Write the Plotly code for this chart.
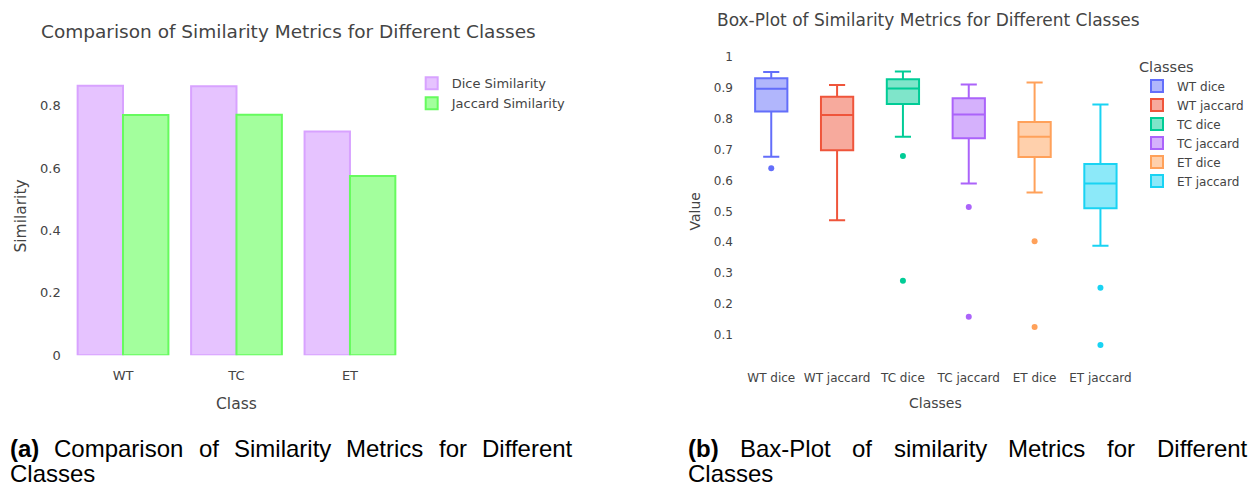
import plotly.graph_objects as go

W, H = 1249, 489

# ---------------- data: left bar chart ----------------
classes = ["WT", "TC", "ET"]
dice_similarity = [0.864, 0.862, 0.717]
jaccard_similarity = [0.770, 0.771, 0.574]

# ---------------- data: right box plot ----------------
box_names = ["WT dice", "WT jaccard", "TC dice", "TC jaccard", "ET dice", "ET jaccard"]
box_lowerfence = [0.677, 0.471, 0.742, 0.590, 0.561, 0.389]
box_q1 = [0.823, 0.698, 0.848, 0.737, 0.676, 0.510]
box_median = [0.897, 0.812, 0.898, 0.814, 0.742, 0.590]
box_q3 = [0.931, 0.871, 0.928, 0.866, 0.789, 0.653]
box_upperfence = [0.951, 0.909, 0.953, 0.911, 0.917, 0.846]
box_outliers = [[0.640], [], [0.679, 0.275], [0.514, 0.159], [0.403, 0.126], [0.253, 0.067]]
box_colors = ["#636efa", "#EF553B", "#00cc96", "#ab63fa", "#FFA15A", "#19d3f3"]

TXT = "#444"
FONT = "DejaVu Sans"


def px_x(p):
    return p / W


def px_y(p):
    return 1 - p / H


fig = go.Figure()

# bars
fig.add_trace(go.Bar(
    x=classes, y=dice_similarity, name="Dice Similarity",
    marker=dict(color="#e6c3ff", line=dict(color="#d8a2ff", width=2)),
    xaxis="x", yaxis="y", legend="legend",
))
fig.add_trace(go.Bar(
    x=classes, y=jaccard_similarity, name="Jaccard Similarity",
    marker=dict(color="#a3ff9d", line=dict(color="#66fb5e", width=2)),
    xaxis="x", yaxis="y", legend="legend",
))

# boxes
for i, nm in enumerate(box_names):
    fig.add_trace(go.Box(
        x=[nm], q1=[box_q1[i]], median=[box_median[i]], q3=[box_q3[i]],
        lowerfence=[box_lowerfence[i]], upperfence=[box_upperfence[i]],
        name=nm, marker_color=box_colors[i], line=dict(width=2),
        width=0.49, xaxis="x2", yaxis="y2", legend="legend2",
        boxpoints=False,
    ))
    if box_outliers[i]:
        fig.add_trace(go.Scatter(
            x=[nm] * len(box_outliers[i]), y=box_outliers[i], mode="markers",
            marker=dict(color=box_colors[i], size=6), showlegend=False,
            xaxis="x2", yaxis="y2", hoverinfo="y",
        ))


def axis_style(size, ticklen):
    return dict(showgrid=False, zeroline=False, showline=False,
                ticks="outside", ticklen=ticklen, tickcolor="rgba(0,0,0,0)",
                tickfont=dict(family=FONT, size=size, color=TXT))


annotations = []


def ann(**kw):
    d = dict(xref="paper", yref="paper", showarrow=False)
    d.update(kw)
    annotations.append(d)


# chart titles
ann(text="Comparison of Similarity Metrics for Different Classes",
    x=px_x(39), y=px_y(28.5), xanchor="left", yanchor="middle",
    font=dict(family=FONT, size=18.5, color=TXT))
ann(text="Box-Plot of Similarity Metrics for Different Classes",
    x=px_x(717), y=px_y(16), xanchor="left", yanchor="middle",
    font=dict(family=FONT, size=17, color=TXT))
# axis titles
ann(text="Similarity", x=px_x(21), y=px_y(217), textangle=-90,
    xanchor="center", yanchor="middle", font=dict(family=FONT, size=15.5, color=TXT))
ann(text="Class", x=px_x(237), y=px_y(410),
    xanchor="center", yanchor="middle", font=dict(family=FONT, size=15.5, color=TXT))
ann(text="Value", x=px_x(697), y=px_y(213), textangle=-90,
    xanchor="center", yanchor="middle", font=dict(family=FONT, size=14, color=TXT))
ann(text="Classes", x=px_x(939), y=px_y(409),
    xanchor="center", yanchor="middle", font=dict(family=FONT, size=14, color=TXT))

# ---------------- captions (justified first lines) ----------------
ARIAL = {"(": .333, ")": .333, "-": .333, " ": .278, "a": .556, "b": .556, "c": .5,
         "d": .556, "e": .556, "f": .278, "i": .222, "l": .222, "m": .833, "n": .556,
         "o": .556, "p": .556, "r": .333, "s": .5, "t": .278, "x": .5, "y": .5,
         "B": .667, "C": .722, "D": .722, "M": .833, "P": .667, "S": .667}
ARIAL_B = {"(": .333, ")": .333, "a": .556, "b": .611}
CAP_SIZE = 24
CAP_FONT = "Liberation Sans"


def word_w(word, bold=False):
    tab = ARIAL_B if bold else ARIAL
    return sum(tab.get(c, .55) for c in word) * CAP_SIZE


def justified(words, x0, x1, yc):
    widths = [word_w(w, bold=(k == 0)) for k, w in enumerate(words)]
    gap = (x1 - x0 - sum(widths)) / (len(words) - 1)
    xpos = x0
    for k, w in enumerate(words):
        txt = "<b>%s</b>" % w if k == 0 else w
        ann(text=txt, x=px_x(xpos), y=px_y(yc), xanchor="left", yanchor="middle",
            borderpad=0, font=dict(family=CAP_FONT, size=CAP_SIZE, color="black"))
        xpos += widths[k] + gap


caption_a = ["(a)", "Comparison", "of", "Similarity", "Metrics", "for", "Different"]
caption_b = ["(b)", "Bax-Plot", "of", "similarity", "Metrics", "for", "Different"]
justified(caption_a, 9, 573, 456)
justified(caption_b, 689, 1250, 456)
for x0 in (9, 689):
    ann(text="Classes", x=px_x(x0), y=px_y(481), xanchor="left", yanchor="middle",
        borderpad=0, font=dict(family=CAP_FONT, size=CAP_SIZE, color="black"))

fig.update_layout(
    width=W, height=H,
    margin=dict(l=0, r=0, t=0, b=0),
    paper_bgcolor="white", plot_bgcolor="white",
    font=dict(family=FONT, color=TXT, size=12),
    barmode="group", bargap=0.2, bargroupgap=0,
    boxmode="overlay",
    xaxis=dict(domain=[px_x(66.5), px_x(408)], anchor="y", type="category",
               range=[-0.5, 2.5], **axis_style(13, 8)),
    yaxis=dict(domain=[px_y(360), px_y(69)], anchor="x", range=[0, 0.91],
               tickvals=[0, 0.2, 0.4, 0.6, 0.8], **axis_style(13, 2)),
    xaxis2=dict(domain=[px_x(740.7), px_x(1137)], anchor="y2", type="category",
                range=[-0.5, 5.5], **axis_style(12, 8)),
    yaxis2=dict(domain=[px_y(363.3), px_y(51.1)], anchor="x2", range=[0.024, 1.01],
                dtick=0.1, **axis_style(12, 2)),
    legend=dict(x=px_x(413), y=px_y(66), xanchor="left", yanchor="top",
                font=dict(family=FONT, size=13, color=TXT), bgcolor="rgba(0,0,0,0)"),
    legend2=dict(x=px_x(1141), y=px_y(50), xanchor="left", yanchor="top",
                 title=dict(text="Classes", font=dict(family=FONT, size=14.5, color=TXT)),
                 font=dict(family=FONT, size=12, color=TXT), bgcolor="rgba(0,0,0,0)"),
    annotations=annotations,
    showlegend=True,
)

fig.write_html("out.html")
